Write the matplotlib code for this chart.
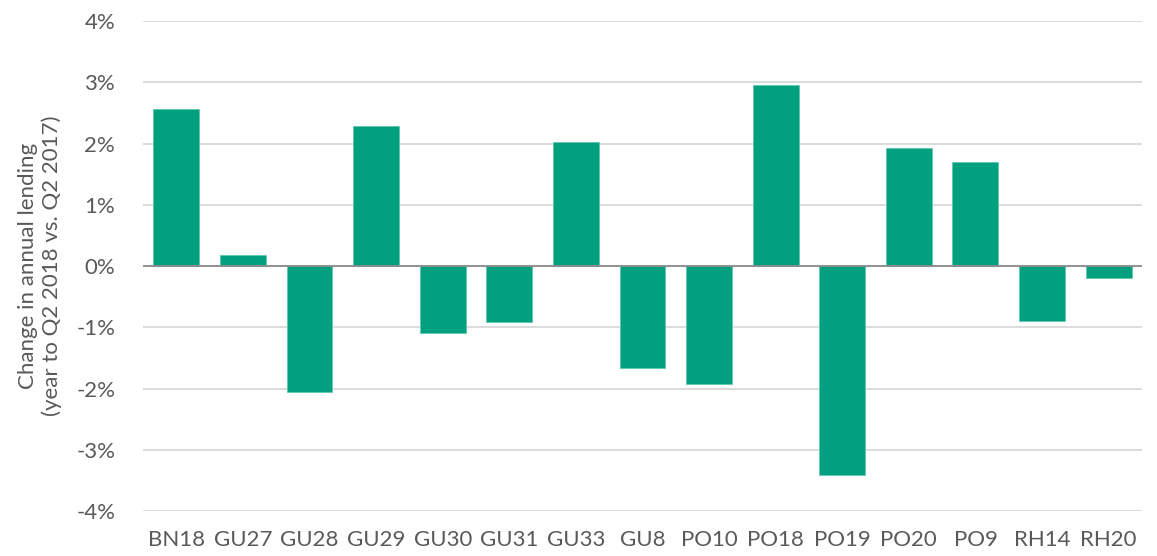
import matplotlib
matplotlib.use("Agg")
import matplotlib.pyplot as plt
from matplotlib.ticker import FuncFormatter

# postcode districts and change in lending (%)
districts = ["BN18", "GU27", "GU28", "GU29", "GU30", "GU31", "GU33", "GU8",
             "PO10", "PO18", "PO19", "PO20", "PO9", "RH14", "RH20"]
change = [2.57, 0.18, -2.06, 2.29, -1.10, -0.92, 2.03, -1.67,
          -1.92, 2.96, -3.41, 1.92, 1.70, -0.89, -0.20]
yticks = [-4, -3, -2, -1, 0, 1, 2, 3, 4]

plt.rcParams['font.family'] = ['Lato', 'DejaVu Sans']
txt = '#595959'

fig = plt.figure(figsize=(11.57, 5.56), dpi=100)
ax = fig.add_axes([0.1236, 0.081, 0.8634, 0.881])

ax.bar(range(len(districts)), change, width=0.69, color='#02A07E',
       edgecolor='#5FC9AE', linewidth=0.6, zorder=3)
ax.axhline(0, color='#8C8C8C', linewidth=1.3, zorder=4)

ax.set_ylim(-4, 4)
ax.set_xlim(-0.5, len(districts) - 0.5)
ax.set_yticks(yticks)
ax.yaxis.set_major_formatter(FuncFormatter(lambda v, p: "%d%%" % v))
ax.set_xticks(range(len(districts)))
ax.set_xticklabels(districts)
ax.grid(axis='y', color='#D9D9D9', linewidth=1.3, zorder=0)
ax.tick_params(length=0, labelsize=16, colors=txt)
ax.tick_params(axis='y', pad=20)
ax.tick_params(axis='x', pad=14)
for s in ax.spines.values():
    s.set_visible(False)

ax.set_ylabel("Change in annual lending\n(year to Q2 2018 vs. Q2 2017)",
              fontsize=16, color=txt, linespacing=1.25, labelpad=10)

fig.savefig("out.png", dpi=100)
